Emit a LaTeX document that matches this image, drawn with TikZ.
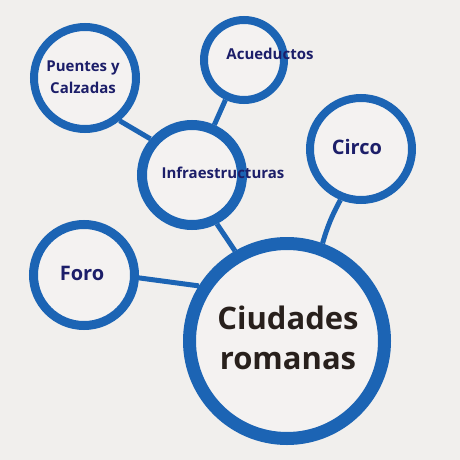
\documentclass[tikz,border=0pt]{standalone}
\usepackage{fontspec}
\setmainfont{Open Sans}
\definecolor{bgc}{RGB}{241,239,237}
\definecolor{ring}{RGB}{28,100,180}
\definecolor{navy}{RGB}{28,30,105}
\definecolor{dark}{RGB}{40,32,28}
\begin{document}
\begin{tikzpicture}[x=1pt,y=-1pt,
  bub/.style={circle,draw=ring,fill=bgc!80!white,inner sep=0pt,line width=#1},
  bub/.default=8pt,
  link/.style={draw=ring,line width=5pt},
  lab/.style={text=navy,font=\bfseries\fontsize{15}{22}\selectfont,align=center,inner sep=0pt},
  big/.style={text=dark,font=\bfseries\fontsize{31}{40}\selectfont,align=center,inner sep=0pt}]
\fill[bgc] (0,0) rectangle (460,460);
\useasboundingbox (0,0) rectangle (460,460);
\node[bub=8pt,minimum size=102pt] (pc) at (85,78) {};
\node[bub=8pt,minimum size=80pt] (ac) at (244,60) {};
\node[bub=8pt,minimum size=102pt] (ci) at (361,149) {};
\node[bub=10pt,minimum size=100pt] (in) at (192,175) {};
\node[bub=9pt,minimum size=101pt] (fo) at (84,275) {};
\node[bub=13pt,minimum size=195pt] (cr) at (287,341) {};
\draw[link] (pc.-51) -- (in.139);
\draw[link] (ac.-115) -- (in.66);
\draw[link] (in.-63) -- (cr.120);
\draw[link] (ci.-112) to[bend right=6] (cr.70);
\draw[link] (fo.-3) -- (cr.148);
\node[lab] (tpc) at (83,77) {Puentes y\\Calzadas};
\node[lab] (tac) at (270,54) {Acueductos};
\node[lab,font=\bfseries\fontsize{20}{24}\selectfont] (tci) at (357,147) {Circo};
\node[lab] (tin) at (223,173) {Infraestructuras};
\node[lab,font=\bfseries\fontsize{20}{24}\selectfont] (tfo) at (82,273) {Foro};
\node[big] (tcr) at (288,338) {Ciudades\\romanas};
\end{tikzpicture}
\end{document}
